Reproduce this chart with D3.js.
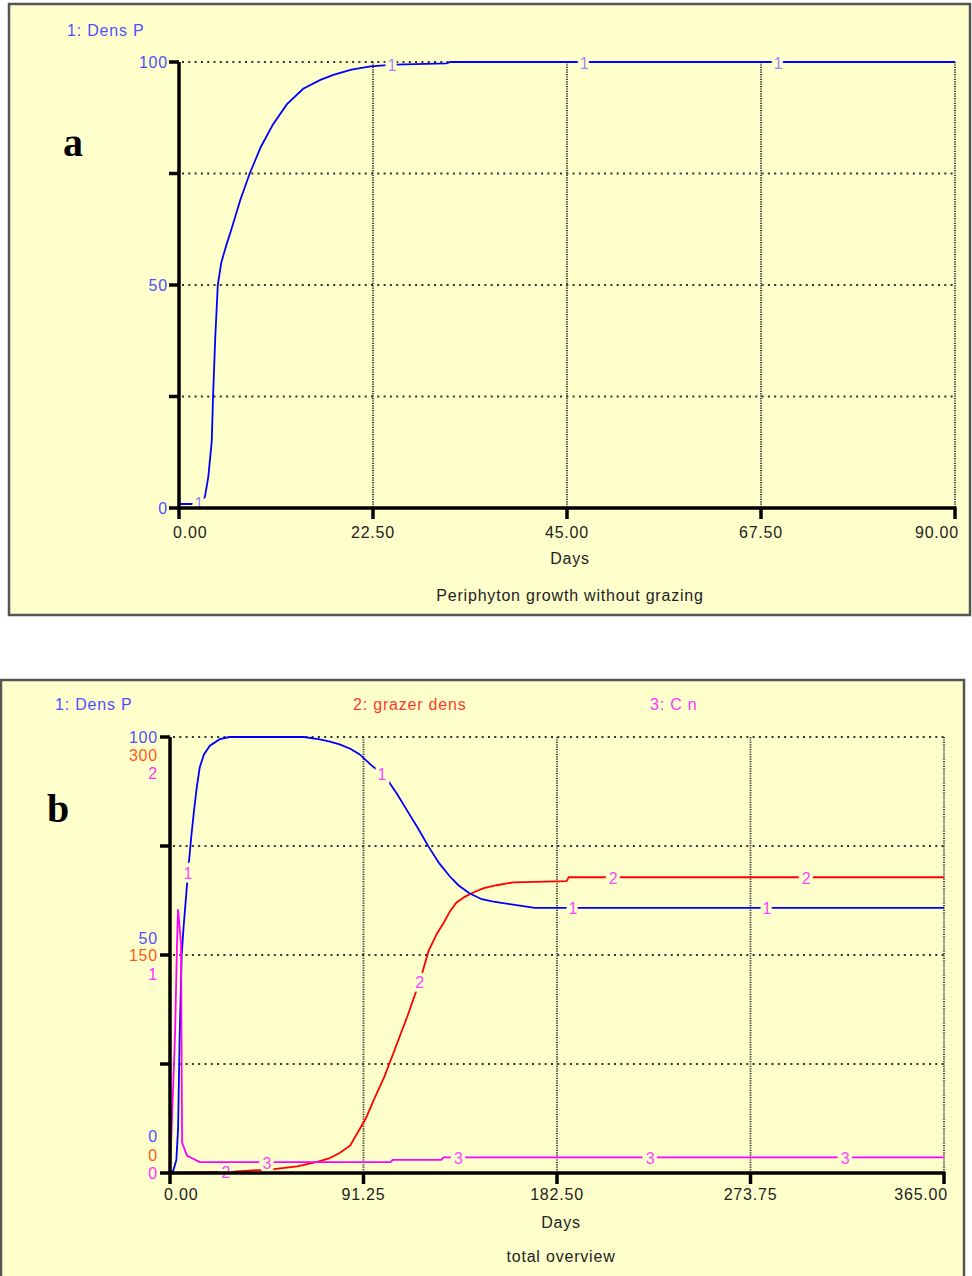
<!DOCTYPE html>
<html><head><meta charset="utf-8">
<script src="https://cdn.jsdelivr.net/npm/d3@7"></script>
<style>
html,body{margin:0;padding:0;background:#fff;}
svg{display:block;}
</style></head>
<body>
<script>
// ---------- Panel a data ----------
const daysA   = [0, 1.5, 2.3, 3.0, 3.4, 3.8, 3.95, 4.2, 4.5, 4.9, 5.5, 6.1, 7.1, 8.2, 9.5, 10.9, 12.5, 14.4, 16.4, 17.9, 20, 22.2, 25, 31, 31.5, 90];
const densPA  = [0.9, 0.9, 1.2, 2.5, 7, 15, 25, 38, 50, 55, 59, 62.6, 69, 75, 81, 86, 90.5, 94, 96, 97.1, 98.3, 99, 99.4, 99.7, 100, 100];
const markerDaysA = [2.3, 24.7, 47, 69.5];
const xTicksA = [0, 22.5, 45, 67.5, 90];
const xTickLabelsA = ["0.00", "22.50", "45.00", "67.50", "90.00"];
const yTicksA = [0, 25, 50, 75, 100];
const yLabelValsA = [0, 50, 100];
const yLabelsA = ["0", "50", "100"];

// ---------- Panel b data ----------
const daysB1 = [0, 1.5, 3, 3.8, 4.5, 5.5, 6.5, 7.5, 8.5, 10, 11.3, 12.5, 14, 16, 18.8, 23.5, 28, 63, 70, 75, 80, 85, 89.5, 95, 100, 102, 107, 112, 117, 122, 127, 132, 136, 141, 147, 152, 157, 165, 172, 365];
const densPB = [0, 0.5, 3, 10, 30, 50, 57, 63, 69, 77, 83, 88, 93, 96, 98, 99.5, 100, 100, 99.5, 99, 98.3, 97.3, 96, 93.5, 91.6, 90.6, 87, 83, 79, 74.8, 71, 68, 66, 64.2, 62.8, 62.3, 61.9, 61.3, 60.8, 60.8];
const daysB2 = [0, 20, 30, 48, 60, 69, 75, 80, 85, 90, 92.5, 96, 101, 106, 112, 118, 122, 126, 129, 132, 135, 139, 143, 148, 154, 162, 187, 188, 365];
const grazerB = [0, 0.5, 1, 2.5, 4.5, 7.5, 10, 13.7, 19, 31.6, 38, 50, 66, 85, 108, 133, 153, 165, 172, 180, 186, 190, 193, 196, 198, 200, 200.8, 203.5, 203.5];
const daysB3 = [0, 0.9, 2.4, 3.3, 3.8, 4.7, 5.2, 5.7, 8, 14, 104, 105, 128, 129, 365];
const cnB    = [0, 0.24, 0.64, 1.05, 1.21, 1.11, 1.05, 0.14, 0.08, 0.05, 0.05, 0.06, 0.06, 0.072, 0.072];
const markerDaysB1 = [8.5, 100, 190, 281.5];
const markerDaysB2 = [26.4, 117.7, 209, 300];
const markerDaysB3 = [45.7, 136, 226.5, 318.4];
const xTicksB = [0, 91.25, 182.5, 273.75, 365];
const xTickLabelsB = ["0.00", "91.25", "182.50", "273.75", "365.00"];
const yFracB = [0, 0.25, 0.5, 0.75, 1];
const yLabelFracB = [1, 0.5, 0];
const yLabelsB1 = ["100", "50", "0"];
const yLabelsB2 = ["300", "150", "0"];
const yLabelsB3 = ["2", "1", "0"];
const domB = [[0, 100], [0, 300], [0, 2]];

// ---------- drawing ----------
const BG = "#ffffcc";
const SANS = "'Liberation Sans', Arial, sans-serif";
const SERIF = "'Liberation Serif', 'Times New Roman', serif";
const svg = d3.select("body").append("svg").attr("width", 972).attr("height", 1276);
svg.append("rect").attr("width", 972).attr("height", 1276).attr("fill", "#fff");

const FS = 16, LS = 0.8;
function txt(g, x, y, s, col, anchor, size) {
  return g.append("text").attr("x", x).attr("y", y).text(s)
    .style("font-family", SANS)
    .attr("fill", col).attr("font-size", size || FS).attr("letter-spacing", LS)
    .attr("text-anchor", anchor || "start").attr("dominant-baseline", "central");
}

function frame(x, y, w, h) {
  svg.append("rect").attr("x", x).attr("y", y).attr("width", w).attr("height", h)
    .attr("fill", BG).attr("stroke", "#555").attr("stroke-width", 2.5);
}

function grid(g, x, y, xVals, yVals) {
  const [x0, x1] = x.range(), [y0, y1] = y.range();
  g.selectAll(".hg").data(yVals).join("line")
    .attr("x1", x0 + 3).attr("x2", x1).attr("y1", d => y(d)).attr("y2", d => y(d))
    .attr("stroke", "#333").attr("stroke-width", 2).attr("stroke-dasharray", "2,4.3");
  g.selectAll(".vg").data(xVals).join("line")
    .attr("x1", d => x(d)).attr("x2", d => x(d)).attr("y1", y1).attr("y2", y0)
    .attr("stroke", "#333").attr("stroke-width", 1.8).attr("stroke-dasharray", "1.2,1.2");
}

function axes(g, x, y, xTicks, xLabels, yTickVals, labelY) {
  const [x0, x1] = x.range(), [y0, y1] = y.range();
  g.append("line").attr("x1", x0).attr("x2", x0).attr("y1", y1).attr("y2", y0).attr("stroke", "#000").attr("stroke-width", 3.5);
  g.append("line").attr("x1", x0 - 1).attr("x2", x1 + 1.5).attr("y1", y0).attr("y2", y0).attr("stroke", "#000").attr("stroke-width", 3.5);
  g.selectAll(".yt").data(yTickVals).join("line")
    .attr("x1", x0 - 10).attr("x2", x0).attr("y1", d => y(d)).attr("y2", d => y(d))
    .attr("stroke", "#000").attr("stroke-width", 3.5);
  g.selectAll(".xt").data(xTicks).join("line")
    .attr("x1", d => x(d)).attr("x2", d => x(d)).attr("y1", y0).attr("y2", y0 + 11)
    .attr("stroke", "#000").attr("stroke-width", 3.5);
  xTicks.forEach((d, i) => {
    const n = xTicks.length;
    const anchor = i === 0 ? "start" : (i === n - 1 ? "end" : "middle");
    const dx = i === 0 ? -6 : (i === n - 1 ? 4 : 0);
    txt(g, x(d) + dx, labelY, xLabels[i], "#222", anchor);
  });
}

function series(g, x, y, days, vals, color, markerDays, markerText, markerColor) {
  const pts = days.map((d, i) => [d, vals[i]]);
  g.append("path").datum(pts)
    .attr("d", d3.line().x(d => x(d[0])).y(d => y(d[1])))
    .attr("fill", "none").attr("stroke", color).attr("stroke-width", 1.8);
  markerDays.forEach(md => {
    const i = d3.bisectRight(days, md);
    const a = Math.max(0, i - 1), b = Math.min(days.length - 1, i);
    const t = days[b] === days[a] ? 0 : (md - days[a]) / (days[b] - days[a]);
    const v = vals[a] + t * (vals[b] - vals[a]);
    g.append("text").attr("x", x(md)).attr("y", y(v) + 1).text(markerText)
      .style("font-family", SANS)
      .attr("fill", markerColor).attr("font-size", FS).attr("text-anchor", "middle")
      .attr("dominant-baseline", "central")
      .attr("stroke", BG).attr("stroke-width", 7).attr("paint-order", "stroke");
  });
}

function panelLetter(g, x, y, s) {
  g.append("text").attr("x", x).attr("y", y).text(s)
    .style("font-family", SERIF).style("font-weight", "bold")
    .attr("font-size", 40).attr("fill", "#000");
}

// ===== Panel a =====
frame(9, 4, 961, 611);
const gA = svg.append("g");
const xA = d3.scaleLinear().domain([0, 90]).range([179, 955]);
const yA = d3.scaleLinear().domain([0, 100]).range([508, 62]);
grid(gA, xA, yA, xTicksA.slice(1), yTicksA.slice(1));
series(gA, xA, yA, daysA, densPA, "#0000ff", markerDaysA, "1", "#9a88ff");
axes(gA, xA, yA, xTicksA, xTickLabelsA, yTicksA, 532);
yLabelValsA.forEach((v, i) => txt(gA, 168, yA(v), yLabelsA[i], "#4f4fff", "end"));
txt(gA, 67, 30, "1: Dens P", "#4f4fff", "start");
txt(gA, 570, 558, "Days", "#222", "middle");
txt(gA, 570, 595, "Periphyton growth without grazing", "#222", "middle");
panelLetter(gA, 63, 156, "a");

// ===== Panel b =====
frame(1, 680, 963, 700);
const gB = svg.append("g");
const xB = d3.scaleLinear().domain([0, 365]).range([170, 944]);
const yPix = [1173, 737];
const yB = domB.map(d => d3.scaleLinear().domain(d).range(yPix));
const yFrac = d3.scaleLinear().domain([0, 1]).range(yPix);
grid(gB, xB, yFrac, xTicksB.slice(1), yFracB.slice(1));
series(gB, xB, yB[1], daysB2, grazerB, "#ff0000", markerDaysB2, "2", "#ff44ff");
series(gB, xB, yB[0], daysB1, densPB, "#0000ff", markerDaysB1, "1", "#ff44ff");
series(gB, xB, yB[2], daysB3, cnB, "#ff00ff", markerDaysB3, "3", "#ff44ff");
axes(gB, xB, yFrac, xTicksB, xTickLabelsB, yFracB, 1194);
const labelSets = [[yLabelsB1, "#4f4fff"], [yLabelsB2, "#ff5a1e"], [yLabelsB3, "#ff33ff"]];
const stackShift = [[0, 18, 36], [-17, 0, 19], [-37, -18, 0]];
yLabelFracB.forEach((f, li) => {
  labelSets.forEach(([labs, col], si) => {
    txt(gB, 158, yFrac(f) + stackShift[li][si], labs[li], col, "end");
  });
});
txt(gB, 55, 704, "1: Dens P", "#4f4fff", "start");
txt(gB, 353, 704, "2: grazer dens", "#ff3a2a", "start");
txt(gB, 650, 704, "3: C n", "#ff33ff", "start");
txt(gB, 561, 1222, "Days", "#222", "middle");
txt(gB, 561, 1256, "total overview", "#222", "middle");
panelLetter(gB, 47, 822, "b");
</script>
</body></html>
